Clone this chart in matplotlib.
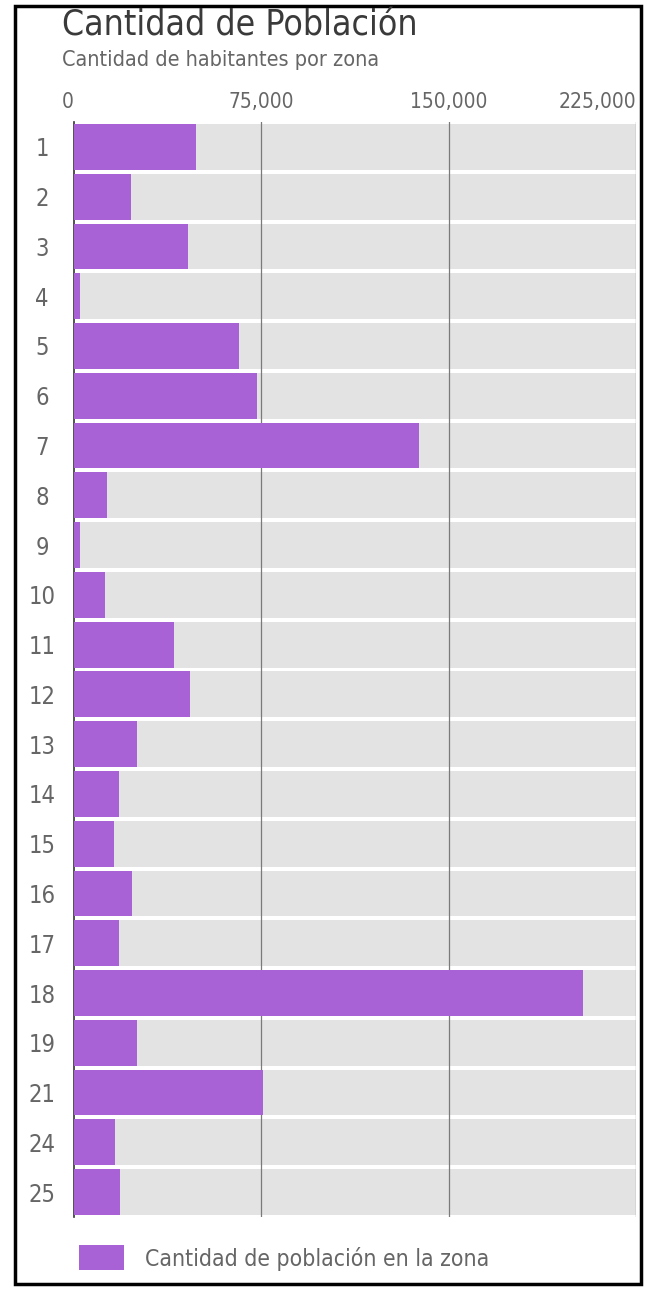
import matplotlib
matplotlib.use('Agg')
import matplotlib.pyplot as plt
from matplotlib.patches import Rectangle

# Datos
zonas = ['1', '2', '3', '4', '5', '6', '7', '8', '9', '10', '11',
         '12', '13', '14', '15', '16', '17', '18', '19', '21', '24', '25']
poblacion = [48900, 22700, 45800, 2400, 66000, 73300, 138300, 13300, 2400, 12500, 39900,
             46600, 25300, 18100, 16100, 23300, 18100, 203800, 25200, 75500, 16400, 18600]
xticks = [0, 75000, 150000, 225000]
xlabels = ['0', '75,000', '150,000', '225,000']

purple = '#A862D6'
gray_band = '#E3E3E3'
text_gray = '#666666'

# fuente estrecha (DejaVu Sans Condensed)
plt.rcParams['font.family'] = ['DejaVu Sans']
plt.rcParams['font.stretch'] = 'condensed'

fig = plt.figure(figsize=(6.47, 12.92), dpi=100)
W, H = 647, 1292

# marco negro alrededor de la figura
fig.add_artist(Rectangle((15 / W, 1 - 1284 / H), 626 / W, 1278 / H, transform=fig.transFigure,
                         fill=False, edgecolor='black', linewidth=2.5))

ax = fig.add_axes([74 / W, 1 - 1217 / H, (636 - 74) / W, (1217 - 122) / H])
ypos = list(range(len(zonas)))

# bandas grises de fondo
ax.barh(ypos, [xticks[-1]] * len(zonas), height=0.92, color=gray_band, zorder=1)
# lineas de referencia
for t in xticks[1:]:
    ax.axvline(t, color='#7a7a7a', linewidth=0.9, zorder=2)
bars = ax.barh(ypos, poblacion, height=0.92, color=purple, zorder=3,
               label='Cantidad de población en la zona')

ax.set_xlim(0, xticks[-1])
ax.set_ylim(len(zonas) - 0.5, -0.5)

for s in ['right', 'bottom', 'top']:
    ax.spines[s].set_visible(False)
ax.spines['left'].set_color('#333333')
ax.spines['left'].set_linewidth(1.2)

ax.xaxis.tick_top()
ax.set_xticks(xticks)
ax.set_xticklabels(xlabels, fontsize=15, color=text_gray)
ax.tick_params(axis='x', length=0, pad=7)
tl = ax.get_xticklabels()
tl[0].set_horizontalalignment('right')
tl[-1].set_horizontalalignment('right')

ax.set_yticks(ypos)
ax.set_yticklabels(zonas, fontsize=17, color=text_gray, ha='center')
ax.tick_params(axis='y', length=0, pad=23)

fig.text(62 / W, 1 - 8 / H, 'Cantidad de Población', fontsize=25.5, color='#3a3a3a',
         ha='left', va='top')
fig.text(62 / W, 1 - 50 / H, 'Cantidad de habitantes por zona', fontsize=15.5, color=text_gray,
         ha='left', va='top')

leg = fig.legend(handles=[bars], loc='center left', bbox_to_anchor=(58 / W, 1 - 1258 / H),
                 frameon=False, fontsize=16.5, handlelength=2.0, handleheight=1.3,
                 handletextpad=0.9, labelcolor=text_gray)

fig.savefig('out.png', dpi=100)
